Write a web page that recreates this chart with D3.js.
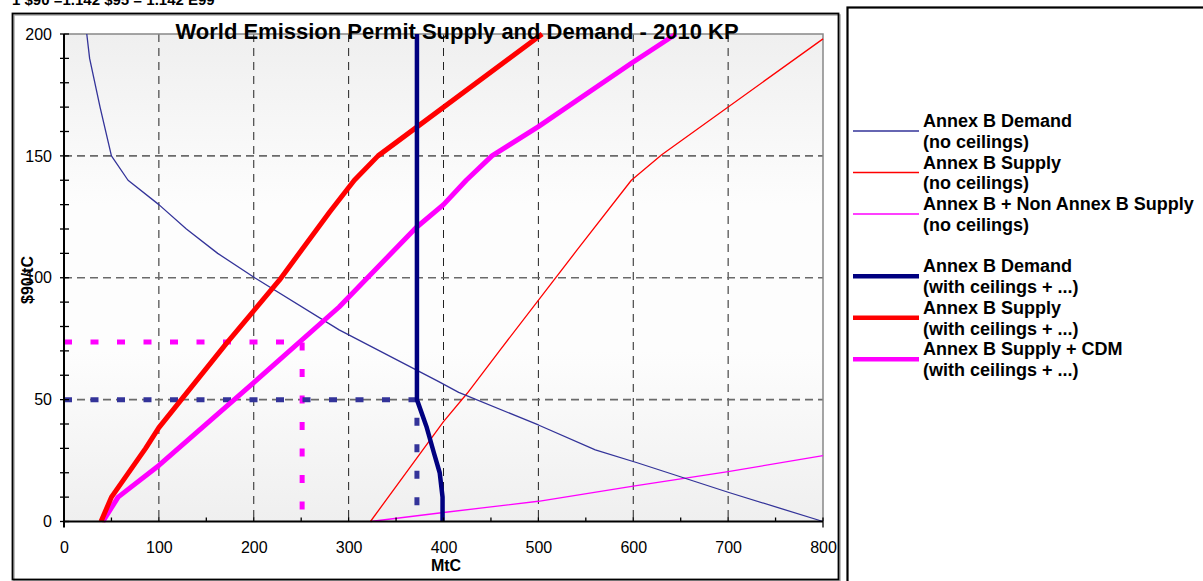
<!DOCTYPE html>
<html>
<head>
<meta charset="utf-8">
<script src="https://cdn.jsdelivr.net/npm/d3@7"></script>
<style>
body{margin:0;background:#fff;font-family:Arial,"Liberation Sans",sans-serif;}
svg{display:block;}
</style>
</head>
<body>
<svg id="chart" width="1203" height="581"></svg>
<script>
// values: [MtC, $90/tC]
var demandNoCeil = [[24,200],[27,190],[38,170],[50,150],[67.5,140],[100,130],[129,120],[162,110],[201,100],[290,78.6],[395,57.4],[416,53],[500,39.6],[560,29.4],[605,24],[700,12],[800,0]];
var supplyNoCeil = [[323,0],[400,41],[425,52.6],[459,70],[540,111],[598,140],[630,150.5],[800,198]];
var supplyNonAnnexNoCeil = [[323,0],[400,3.7],[500,8.3],[600,14.5],[700,20.5],[800,27]];
var demandCeil = [[372,200],[372,50],[382,39],[390,28],[396,20],[399,10],[399,0]];
var supplyCeil = [[39,0],[50,10],[86,30],[100,38.5],[171,73],[227,99],[280,127],[306,140],[331,150],[504,200]];
var supplyCdmCeil = [[41,0],[57,10],[100,23],[200,57],[290,88],[371,120.5],[400,130],[424,140],[451,150],[500,162],[598,188],[645,200]];

var ceilPoint = [372, 50];     // demand with ceilings meets supply
var cdmPoint = [251, 73.6];    // supply + CDM meets demand

var xTicks = [0,100,200,300,400,500,600,700,800];
var yTicks = [0,50,100,150,200];

var legendNames = [
	["Annex B Demand", "(no ceilings)"],
	["Annex B Supply", "(no ceilings)"],
	["Annex B + Non Annex B Supply", "(no ceilings)"],
	["Annex B Demand", "(with ceilings + ...)"],
	["Annex B Supply", "(with ceilings + ...)"],
	["Annex B Supply + CDM", "(with ceilings + ...)"]
];

var svg = d3.select("#chart");
var pLeft = 64, pRight = 823, pTop = 34, pBottom = 521.5;
var x = d3.scaleLinear().domain([0,800]).range([pLeft,pRight]);
var y = d3.scaleLinear().domain([0,200]).range([pBottom,pTop]);

// note line at very top, cut by the page
svg.append("text").attr("x",12).attr("y",5)
	.style("font-size","15px").style("font-weight","bold")
	.text("1 $90 =1.142 $95 = 1.142 E99");

// frames
svg.append("rect").attr("x",14).attr("y",15).attr("width",826).attr("height",566).attr("fill","none").attr("stroke","#aaa").attr("stroke-width",1.5);
svg.append("rect").attr("x",12.5).attr("y",13.5).attr("width",826).attr("height",566).attr("fill","none").attr("stroke","#000").attr("stroke-width",1.8);
svg.append("rect").attr("x",847.5).attr("y",7.5).attr("width",400).attr("height",600).attr("fill","#fff").attr("stroke","#000").attr("stroke-width",2.2);

// plot background
var grad = svg.append("defs").append("linearGradient").attr("id","bg").attr("x1",0).attr("x2",0).attr("y1",0).attr("y2",1);
grad.append("stop").attr("offset","0%").attr("stop-color","#efefef");
grad.append("stop").attr("offset","35%").attr("stop-color","#fdfdfd");
grad.append("stop").attr("offset","65%").attr("stop-color","#fdfdfd");
grad.append("stop").attr("offset","100%").attr("stop-color","#efefef");
svg.append("rect").attr("x",pLeft).attr("y",pTop).attr("width",pRight-pLeft).attr("height",pBottom-pTop).attr("fill","url(#bg)");

// grid
svg.append("g").selectAll("line").data(d3.range(100,800,100)).join("line")
	.attr("x1",function(d){return x(d);}).attr("x2",function(d){return x(d);})
	.attr("y1",pTop).attr("y2",pBottom)
	.attr("stroke","#222").attr("stroke-width",1).attr("stroke-dasharray","8,6");
svg.append("g").selectAll("line").data([50,100,150]).join("line")
	.attr("x1",pLeft).attr("x2",pRight)
	.attr("y1",function(d){return y(d);}).attr("y2",function(d){return y(d);})
	.attr("stroke","#6a6a6a").attr("stroke-width",1.6).attr("stroke-dasharray","8,5");
svg.append("path").attr("d","M"+pLeft+","+pTop+"H"+pRight+"V"+pBottom).attr("fill","none").attr("stroke","#888").attr("stroke-width",1.5);

// reference lines (dashed)
function refLines(p, color) {
	svg.append("path")
		.attr("d","M"+x(0)+","+y(p[1])+"H"+x(p[0])+"V"+y(0))
		.attr("fill","none").attr("stroke",color).attr("stroke-width",5)
		.attr("stroke-dasharray","8,18.5");
}
refLines(cdmPoint, "#ff00ff");
refLines(ceilPoint, "#333399");

// series
var line = d3.line().x(function(d){return x(d[0]);}).y(function(d){return y(d[1]);});
function drawSeries(data, color, width) {
	svg.append("path").datum(data).attr("d",line)
		.attr("fill","none").attr("stroke",color).attr("stroke-width",width)
		.attr("stroke-linejoin","round");
}
drawSeries(supplyNonAnnexNoCeil, "#ff00ff", 1.3);
drawSeries(supplyNoCeil, "#ff0000", 1.3);
drawSeries(demandNoCeil, "#333399", 1.3);
drawSeries(supplyCdmCeil, "#ff00ff", 5);
drawSeries(supplyCeil, "#ff0000", 5);
drawSeries(demandCeil, "#000080", 4.5);

// axes
svg.append("line").attr("x1",pLeft).attr("x2",pLeft).attr("y1",pTop).attr("y2",pBottom+6).attr("stroke","#000").attr("stroke-width",2);
svg.append("line").attr("x1",pLeft).attr("x2",pRight).attr("y1",pBottom).attr("y2",pBottom).attr("stroke","#000").attr("stroke-width",2);
svg.append("g").selectAll("line").data(d3.range(0,201,10)).join("line")
	.attr("x1",pLeft-4).attr("x2",pLeft+5)
	.attr("y1",function(d){return y(d);}).attr("y2",function(d){return y(d);})
	.attr("stroke","#000").attr("stroke-width",1.3);
svg.append("g").selectAll("line").data(d3.range(50,801,50)).join("line")
	.attr("x1",function(d){return x(d);}).attr("x2",function(d){return x(d);})
	.attr("y1",pBottom-4).attr("y2",pBottom)
	.attr("stroke","#000").attr("stroke-width",1.3);
svg.append("line").attr("x1",pRight).attr("x2",pRight).attr("y1",pBottom).attr("y2",pBottom+6).attr("stroke","#000").attr("stroke-width",1.3);

var xAxis = svg.append("g").attr("transform","translate(0,"+pBottom+")")
	.call(d3.axisBottom(x).tickValues(xTicks).tickSize(0).tickPadding(20));
var yAxis = svg.append("g").attr("transform","translate("+pLeft+",0)")
	.call(d3.axisLeft(y).tickValues(yTicks).tickSize(0).tickPadding(12));
[xAxis, yAxis].forEach(function(a){
	a.select(".domain").remove();
	a.attr("font-family",null).attr("font-size",null);
	a.selectAll("text").style("font-size","16px").attr("fill","#000");
});

// titles
svg.append("text").attr("x",457).attr("y",39).attr("text-anchor","middle")
	.style("font-size","22px").style("font-weight","bold")
	.text("World Emission Permit Supply and Demand - 2010 KP");
svg.append("text").attr("x",446).attr("y",571).attr("text-anchor","middle")
	.style("font-size","16px").style("font-weight","bold").text("MtC");
svg.append("text").attr("transform","translate(33,280) rotate(-90)").attr("text-anchor","middle")
	.style("font-size","16px").style("font-weight","bold").text("$90/tC");

// legend
var legendColors = ["#333399","#ff0000","#ff00ff","#000080","#ff0000","#ff00ff"];
var legendWidths = [1.3,1.3,1.3,4.5,4.5,4.5];
var rowH = 20.75;
legendNames.forEach(function(n, i){
	var base = 127 + rowH * (i*2 + (i>2 ? 1 : 0));
	svg.append("line").attr("x1",853).attr("x2",919).attr("y1",base+4).attr("y2",base+4)
		.attr("stroke",legendColors[i]).attr("stroke-width",legendWidths[i]);
	svg.append("text").attr("x",923).attr("y",base).style("font-size","18px").style("font-weight","bold").text(n[0]);
	svg.append("text").attr("x",923).attr("y",base+rowH).style("font-size","18px").style("font-weight","bold").text(n[1]);
});
</script>
</body>
</html>
